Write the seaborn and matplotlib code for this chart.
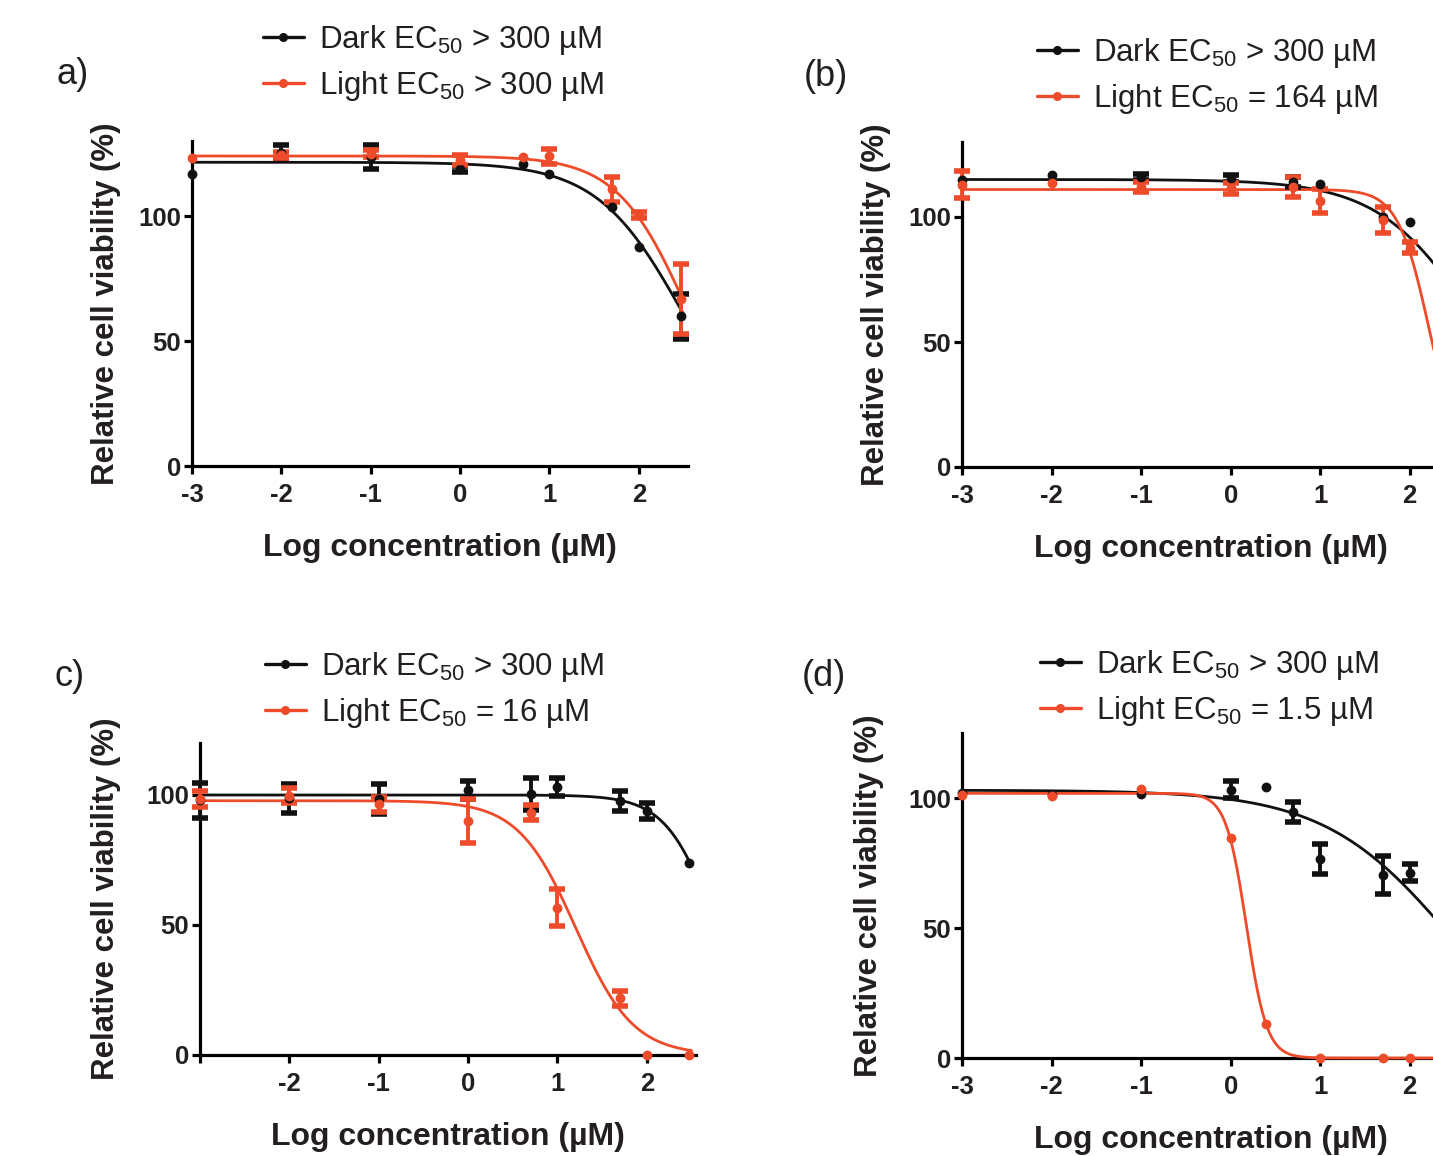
import numpy as np
import pandas as pd
import matplotlib
matplotlib.use("Agg")
import matplotlib.pyplot as plt
from matplotlib.lines import Line2D
import seaborn as sns

# ---------------- data ----------------
# concentrations tested (µM)
conc_a = [0.001, 0.01, 0.1, 1, 5, 10, 50, 100, 300]
conc_b = [0.001, 0.01, 0.1, 1, 5, 10, 50, 100]
conc_c = [0.001, 0.01, 0.1, 1, 5, 10, 50, 100, 300]
conc_d_dark = [0.001, 0.01, 0.1, 1, 2.5, 5, 10, 50, 100]
conc_d_light = [0.001, 0.01, 0.1, 1, 2.5, 10, 50, 100]

# mean relative viability (%) and SD, dark / light
a_dark_mean = [117, 125.4, 123.7, 119, 121, 116.7, 103.5, 87.7, 60]
a_dark_sd = [0, 3, 4.7, 1.2, 0, 0, 0, 0, 9]
a_light_mean = [123.3, 124.4, 125, 122.4, 123.7, 123.9, 110.7, 100.4, 67]
a_light_sd = [0, 1.2, 1.5, 2, 0, 2.9, 5, 1.2, 14]

b_dark_mean = [115, 117, 116, 115.5, 114, 113.1, 100, 98.1]
b_dark_sd = [0, 0, 1.2, 1.5, 2, 0, 0, 0]
b_light_mean = [113, 113.7, 112, 111.5, 112, 106.4, 98.8, 87.8]
b_light_sd = [5.5, 0, 2, 2.3, 4, 4.7, 5.3, 2.3]

c_dark_mean = [97.9, 98.7, 98.5, 101.9, 100.3, 103, 97.8, 93.7, 73.7]
c_dark_sd = [6.9, 5.5, 5.8, 3.6, 6.1, 3.4, 3.8, 3.1, 0]
c_light_mean = [98.6, 99.7, 96.5, 90, 93.2, 56.7, 21.8, 0, 0]
c_light_sd = [3.1, 2.9, 2.9, 8.3, 3, 7, 3, 0, 0]

d_dark_mean = [102, 101, 101.5, 103.2, 104.1, 94.5, 76.5, 70.4, 71.3]
d_dark_sd = [0, 0, 0, 3.2, 0, 3.9, 5.8, 7.4, 3.2]
d_light_mean = [101.2, 100.9, 103.5, 84.6, 13.1, 0, 0, 0]
d_light_sd = [0, 0, 0, 0, 0, 0, 0, 0]

# four-parameter logistic fits: (top, bottom, EC50 in µM, Hill slope)
a_dark_fit = (121.5, 0, 316, 0.9)
a_light_fit = (124, 0, 355, 1.1)
b_dark_fit = (115, 0, 560, 0.8)
b_light_fit = (111, 0, 164, 2.5)
c_dark_fit = (100, 0, 590, 1.57)
c_light_fit = (97.8, 0, 16, 1.35)
d_dark_fit = (103, -13, 316, 0.6)
d_light_fit = (101.8, 0, 1.5, 3.8)

legend_labels = {
    "a": ["Dark EC$_{50}$ > 300 µM", "Light EC$_{50}$ > 300 µM"],
    "b": ["Dark EC$_{50}$ > 300 µM", "Light EC$_{50}$ = 164 µM"],
    "c": ["Dark EC$_{50}$ > 300 µM", "Light EC$_{50}$ = 16 µM"],
    "d": ["Dark EC$_{50}$ > 300 µM", "Light EC$_{50}$ = 1.5 µM"],
}
panel_tags = {"a": "a)", "b": "(b)", "c": "c)", "d": "(d)"}
x_ticks = [-3, -2, -1, 0, 1, 2]
y_ticks = [0, 50, 100]

# ---------------- style ----------------
sns.set_theme(style="ticks")
plt.rcParams["font.family"] = ["Liberation Sans", "DejaVu Sans"]
plt.rcParams["mathtext.fontset"] = "custom"
plt.rcParams["mathtext.rm"] = "Liberation Sans"
plt.rcParams["mathtext.default"] = "regular"

DARK = "#111111"
LIGHT = "#EE4B2B"
TEXT = "#231F20"

W, H = 1433, 1156
fig = plt.figure(figsize=(W / 100, H / 100), dpi=100)


def px_axes(left, top, width, height):
    return fig.add_axes([left / W, 1 - (top + height) / H, width / W, height / H])


def four_pl(x, fit):
    top, bottom, ec50, hill = fit
    return bottom + (top - bottom) / (1 + 10 ** ((x - np.log10(ec50)) * hill))


def draw_series(ax, conc, mean, sd, fit, color, x_end):
    logc = np.log10(conc)
    xs = np.linspace(-3, x_end, 400)
    curve = pd.DataFrame({"x": xs, "y": four_pl(xs, fit)})
    sns.lineplot(data=curve, x="x", y="y", ax=ax, color=color, lw=2.0,
                 estimator=None, sort=True, clip_on=False, zorder=3)
    sd = np.asarray(sd, dtype=float)
    mean = np.asarray(mean, dtype=float)
    has_err = sd > 0
    if has_err.any():
        ax.errorbar(logc[has_err], mean[has_err], yerr=sd[has_err], fmt="none",
                    ecolor=color, elinewidth=2.8, capsize=5.5, capthick=4.0,
                    clip_on=False, zorder=4)
    pts = pd.DataFrame({"x": logc, "y": mean})
    sns.scatterplot(data=pts, x="x", y="y", ax=ax, color=color, s=50,
                    edgecolor=color, linewidth=0, clip_on=False, zorder=5)


def style_axes(ax, ymax, x_labels, ypad):
    ax.set_xlim(-3, 2.55)
    ax.set_ylim(0, ymax)
    ax.set_xticks(x_ticks)
    ax.set_xticklabels(x_labels)
    ax.set_yticks(y_ticks)
    ax.set_yticklabels([str(v) for v in y_ticks])
    for side in ("top", "right"):
        ax.spines[side].set_visible(False)
    for side in ("left", "bottom"):
        ax.spines[side].set_linewidth(2.3)
        ax.spines[side].set_color("black")
    ax.tick_params(axis="both", direction="out", length=6, width=2.3,
                   color="black", labelcolor=TEXT, labelsize=18.5)
    ax.tick_params(axis="x", pad=6)
    ax.tick_params(axis="y", pad=2)
    for lab in ax.get_xticklabels() + ax.get_yticklabels():
        lab.set_fontweight("bold")
    ax.set_xlabel("Log concentration (µM)", fontsize=23, fontweight="bold",
                  color=TEXT, labelpad=19)
    ax.set_ylabel("Relative cell viability (%)", fontsize=22.5,
                  fontweight="bold", color=TEXT, labelpad=ypad)
    ax.set_facecolor("none")


def add_legend(ax, labels, x_px, y_px):
    handles = [
        Line2D([0], [0], color=DARK, lw=2.4, marker="o", markersize=5.5),
        Line2D([0], [0], color=LIGHT, lw=2.4, marker="o", markersize=5.5),
    ]
    ax.legend(handles, labels, loc="center left",
              bbox_to_anchor=(x_px / W, 1 - y_px / H),
              bbox_transform=fig.transFigure, frameon=False, fontsize=22.5,
              handlelength=1.3, handletextpad=0.5, labelspacing=0.4,
              borderpad=0, borderaxespad=0, labelcolor=TEXT)


full_labels = [str(t) for t in x_ticks]
c_labels = [""] + full_labels[1:]

# (a)
ax_a = px_axes(192, 141, 496, 325)
draw_series(ax_a, conc_a, a_dark_mean, a_dark_sd, a_dark_fit, DARK, 2.5)
draw_series(ax_a, conc_a, a_light_mean, a_light_sd, a_light_fit, LIGHT, 2.5)
style_axes(ax_a, 130, full_labels, 12)
add_legend(ax_a, legend_labels["a"], 263, 63)
fig.text(56 / W, 1 - 75 / H, panel_tags["a"], fontsize=26, color=TEXT,
         va="center", ha="left")

# (b)
ax_b = px_axes(962, 142, 497, 325)
draw_series(ax_b, conc_b, b_dark_mean, b_dark_sd, b_dark_fit, DARK, 2.5)
draw_series(ax_b, conc_b, b_light_mean, b_light_sd, b_light_fit, LIGHT, 2.5)
style_axes(ax_b, 130, full_labels, 12)
add_legend(ax_b, legend_labels["b"], 1037, 76)
fig.text(804 / W, 1 - 77 / H, panel_tags["b"], fontsize=26, color=TEXT,
         va="center", ha="left")

# (c)
ax_c = px_axes(200, 743, 496, 312)
draw_series(ax_c, conc_c, c_dark_mean, c_dark_sd, c_dark_fit, DARK, 2.5)
draw_series(ax_c, conc_c, c_light_mean, c_light_sd, c_light_fit, LIGHT, 2.5)
style_axes(ax_c, 120, c_labels, 18)
add_legend(ax_c, legend_labels["c"], 265, 690)
fig.text(54 / W, 1 - 677 / H, panel_tags["c"], fontsize=26, color=TEXT,
         va="center", ha="left")

# (d)
ax_d = px_axes(962, 733, 497, 325)
draw_series(ax_d, conc_d_dark, d_dark_mean, d_dark_sd, d_dark_fit, DARK, 2.5)
draw_series(ax_d, conc_d_light, d_light_mean, d_light_sd, d_light_fit, LIGHT, 2.5)
style_axes(ax_d, 125, full_labels, 17)
add_legend(ax_d, legend_labels["d"], 1040, 688)
fig.text(802 / W, 1 - 676 / H, panel_tags["d"], fontsize=26, color=TEXT,
         va="center", ha="left")

fig.savefig("out.png", dpi=100, facecolor="white")
